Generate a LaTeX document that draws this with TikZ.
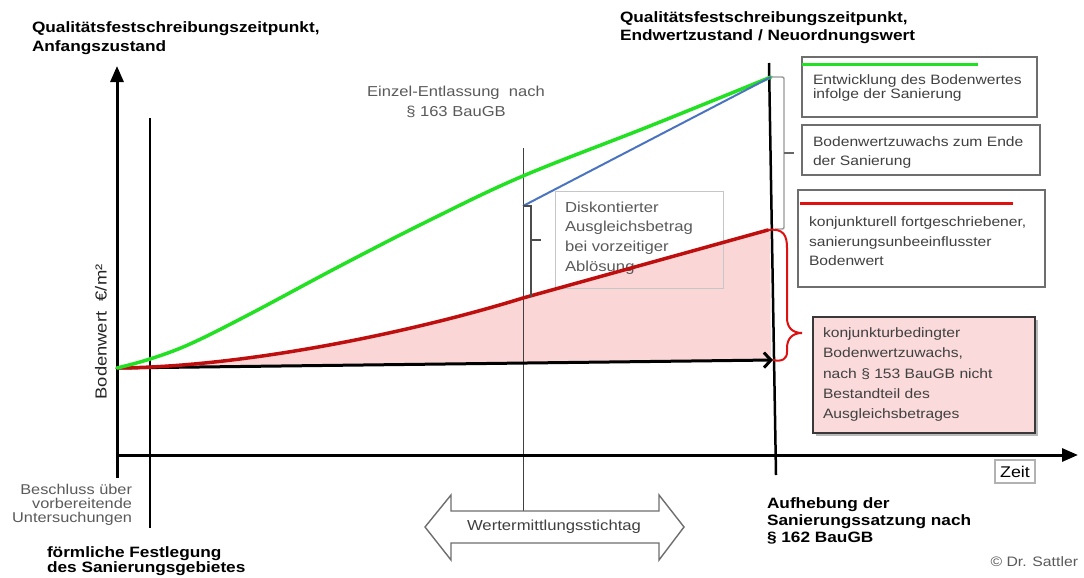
\documentclass[tikz,border=0pt]{standalone}
\usepackage{fontspec}
\setmainfont{Liberation Sans}[FakeStretch=1.15]
\usetikzlibrary{arrows.meta}
\definecolor{grn}{HTML}{22E022}
\definecolor{blu}{HTML}{4A74C0}
\definecolor{rd}{HTML}{E01010}
\definecolor{pinkfill}{HTML}{FAD6D6}
\definecolor{boxpink}{HTML}{FADADA}
\definecolor{txtgray}{HTML}{404040}
\definecolor{midgray}{HTML}{5A5A5A}
\definecolor{framegray}{HTML}{6E6E6E}
\newcommand\fs[2]{\fontsize{#1}{#2}\selectfont}
\begin{document}
\begin{tikzpicture}[x=1pt,y=-1pt,
  every node/.style={inner sep=0pt, outer sep=0pt},
  head/.style={font=\bfseries\fs{15}{19}, align=left, anchor=north west, text=black},
  boxtxt/.style={text=txtgray, align=left, anchor=north west},
  frame/.style={draw=framegray, line width=1.5pt, anchor=north west},
  axis/.style={line width=3pt, -{Triangle[length=16pt,width=13pt]}},
  vline/.style={line width=2.5pt}]
\useasboundingbox[fill=white] (0,0) rectangle (1084,578);

% key coordinates
\coordinate (aStart) at (117,368);
\coordinate (aEnd) at (773,360);
\coordinate (gEnd) at (771,77);
\coordinate (rEnd) at (768,230);
\coordinate (bStart) at (523,206);
\coordinate (rMid) at (523,298);

% pink area
\fill[pinkfill] (aStart) .. controls (250,367) and (420,330) .. (rMid) -- (rEnd) -- (770,230) -- (771,360) -- (aEnd) -- cycle;

% headings
\node[head] (h1) at (32,21.3) {Qualitätsfestschreibungszeitpunkt,\\Anfangszustand};
\node[head, font=\bfseries\fs{15}{18}] (h2) at (620,11.3) {Qualitätsfestschreibungszeitpunkt,\\Endwertzustand / Neuordnungswert};

% Einzel-Entlassung
\node[anchor=north, align=center, text=midgray, font=\fs{14.4}{20}] (ee) at (456,86.5) {Einzel-Entlassung\ \ nach\\§ 163 BauGB};

% Diskontierter box
\node[draw=gray!45, line width=1pt, anchor=north west, minimum width=168pt, minimum height=97pt] (db) at (555,191) {};
\node[boxtxt, text=midgray, font=\fs{14.5}{19.7}] (dt) at (565,201.5) {Diskontierter\\Ausgleichsbetrag\\bei vorzeitiger\\Ablösung};

% right boxes
\node[frame, minimum width=235pt, minimum height=60pt] (b1) at (802,57) {};
\draw[grn, line width=3pt] (b1.north west) ++(0,8) coordinate (g1) -- ++(176,0);
\node[boxtxt, font=\fs{13.6}{12.5}] (t1) at (813,74.9) {Entwicklung des Bodenwertes\\infolge der Sanierung};

\node[frame, minimum width=238pt, minimum height=50pt] (b2) at (802,125) {};
\node[boxtxt, font=\fs{13.6}{19}] (t2) at (813,136.9) {Bodenwertzuwachs zum Ende\\der Sanierung};

\node[frame, minimum width=247pt, minimum height=97pt] (b3) at (798,190) {};
\draw[rd, line width=3pt] (b3.north west) ++(2,13) coordinate (r1) -- ++(213,0);
\node[boxtxt, font=\fs{13.6}{19.5}] (t3) at (809,216.9) {konjunkturell fortgeschriebener,\\sanierungsunbeeinflusster\\Bodenwert};

\fill[gray!55] (816,320) rectangle (1038,436);
\node[frame, draw=gray!45!black, line width=1.2pt, fill=boxpink, minimum width=222pt, minimum height=116pt] (b4) at (813,317) {};
\node[boxtxt, font=\fs{13.6}{20.2}] (t4) at (823,327.9) {konjunkturbedingter\\Bodenwertzuwachs,\\nach § 153 BauGB nicht\\Bestandteil des\\Ausgleichsbetrages};

% axes and vertical lines
\draw[line width=1pt, black!75] (523,148) coordinate (th) -- (523,512) coordinate (tb);
\draw[axis] (117,478) coordinate (yb) -- (117,66) coordinate (yt);
\draw[axis] (117,455) coordinate (xs) -- (1078,455) coordinate (xe);
\draw[vline] (150,118) coordinate (v1t) -- (150,528) coordinate (v1b);
\draw[vline] (769,63) coordinate (v2t) -- (776,475) coordinate (v2b);

% double arrow
\draw[framegray, line width=1.4pt, fill=white] (425,527) -- (451,495) -- (451,511) -- (659,511) -- (659,495) -- (684,527) -- (659,560) -- (659,543) -- (451,543) -- (451,560) -- cycle;
\node[text=txtgray, font=\fs{14.5}{15}] (wt) at (554,527) {Wertermittlungsstichtag};

% black arrow
\draw[line width=3pt, -{Straight Barb[length=7pt,width=15pt]}] (aStart) -- (aEnd);

% red curve
\draw[rd!85!black, line width=3.5pt, line cap=round] (aStart) .. controls (250,367) and (420,330) .. (rMid) -- (rEnd);

% green curve
\draw[grn, line width=3.5pt, line cap=round] plot[smooth, tension=0.6] coordinates {(117,368) (150,359) (190,344) (250,314) (340,266) (430,220) (523,176) (650,126) (771,77)};

% blue line
\draw[blu, line width=2pt] (bStart) -- (gEnd);

% small bracket (Diskontierter)
\draw[black!70, line width=1.1pt] (bStart) -- (531,206) -- (531,297);
\draw[black!70, line width=1.1pt] (531,240) -- (541,240);

% gray bracket (Bodenwertzuwachs)
\draw[gray!80, line width=1.4pt] (gEnd) -- (780,77) .. controls (784,77) .. (784,81) -- (784,225) .. controls (784,229) .. (780,229) -- (775,229);
\draw[gray!80!black, line width=1.4pt] (784,153) -- (794,153);

% red brace
\draw[rd, line width=2pt] (rEnd) .. controls (784,228) and (787,236) .. (787,248) -- (787,318) .. controls (787,328) and (793,333) .. (802,333) .. controls (793,333) and (787,338) .. (787,348) -- (787,352) .. controls (787,359) and (782,362) .. (aEnd);

% axis texts
\node[rotate=90, text=black!85, font=\fs{16}{16}] (yl) at (101,332) {Bodenwert\ \ €/m²};
\node[draw=gray!60, line width=1.5pt, minimum width=40pt, minimum height=23pt, font=\fs{15.5}{16}] (zeit) at (1015,471.5) {Zeit};

\node[anchor=north east, align=right, text=midgray, font=\fs{14.2}{14}] (bes) at (132,484.6) {Beschluss über\\vorbereitende\\Untersuchungen};
\node[anchor=north west, align=left, font=\bfseries\fs{15}{11.5}] (ff) at (47,546.5) {förmliche Festlegung\\des Sanierungsgebietes};
\node[anchor=north west, align=left, font=\bfseries\fs{15}{17}] (auf) at (767,497.5) {Aufhebung der\\Sanierungssatzung nach\\§ 162 BauGB};
\node[anchor=east, text=midgray, font=\fs{13.7}{14}] (copy) at (1078,562) {© Dr. Sattler};
\end{tikzpicture}
\end{document}
